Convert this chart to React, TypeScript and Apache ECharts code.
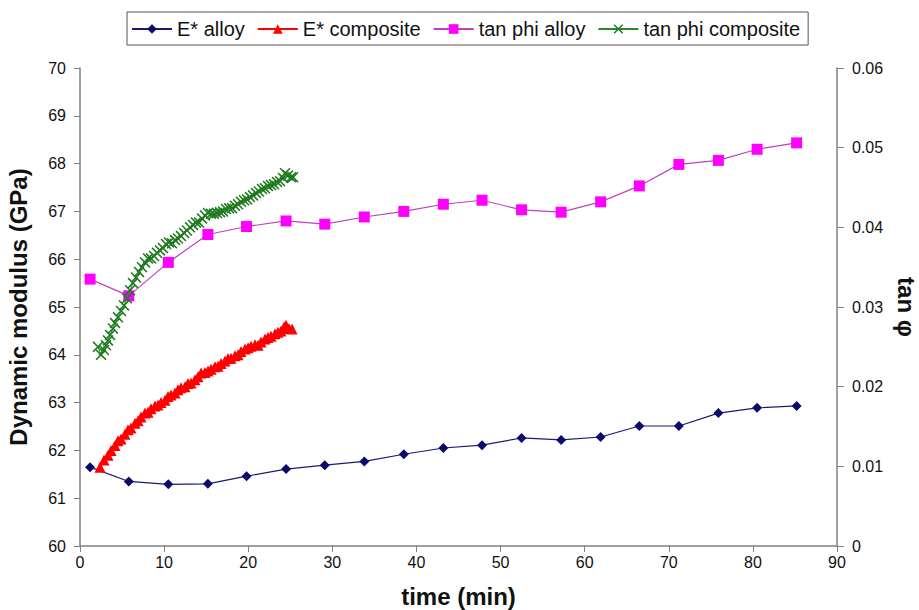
import React, { useEffect, useRef } from "react";
import * as echarts from "echarts";

// ---- data ----
const alloyTime = [1.2, 5.8, 10.5, 15.2, 19.8, 24.5, 29.1, 33.8, 38.5, 43.2, 47.8, 52.5, 57.2, 61.9, 66.5, 71.2, 75.9, 80.5, 85.2];
const eAlloy = [61.65, 61.35, 61.29, 61.3, 61.46, 61.61, 61.69, 61.77, 61.92, 62.05, 62.11, 62.26, 62.22, 62.28, 62.51, 62.51, 62.78, 62.89, 62.93];
const tanAlloy = [0.0335, 0.0314, 0.0356, 0.0391, 0.0401, 0.0408, 0.0404, 0.0413, 0.042, 0.0429, 0.0434, 0.0422, 0.0419, 0.0432, 0.0452, 0.0479, 0.0484, 0.0498, 0.0506];

const eCompTime = [2.38, 2.85, 3.33, 3.69, 4.16, 4.52, 4.88, 5.35, 5.71, 6.06, 6.54, 6.9, 7.25, 7.73, 8.09, 8.44, 8.92, 9.27, 9.63, 10.11, 10.46, 10.82, 11.3, 11.65, 12.01, 12.49, 12.84, 13.2, 13.67, 14.03, 14.39, 14.86, 15.22, 15.58, 16.05, 16.41, 16.77, 17.24, 17.6, 17.95, 18.43, 18.79, 19.14, 19.62, 19.98, 20.33, 20.81, 21.17, 21.52, 22.0, 22.35, 22.71, 23.19, 23.54, 23.9, 24.26, 24.49, 24.85, 25.21];
const eComp = [61.65, 61.8, 61.9, 62.0, 62.1, 62.2, 62.24, 62.34, 62.43, 62.47, 62.57, 62.62, 62.7, 62.78, 62.8, 62.87, 62.93, 62.95, 63.0, 63.05, 63.13, 63.16, 63.2, 63.27, 63.31, 63.33, 63.4, 63.41, 63.48, 63.54, 63.62, 63.63, 63.66, 63.7, 63.75, 63.76, 63.82, 63.87, 63.92, 63.93, 63.98, 64.0, 64.07, 64.12, 64.15, 64.18, 64.21, 64.2, 64.27, 64.33, 64.36, 64.39, 64.44, 64.47, 64.5, 64.58, 64.62, 64.55, 64.54];

const tanCompTime = [2.14, 2.5, 2.85, 3.09, 3.33, 3.57, 3.92, 4.16, 4.52, 4.88, 5.23, 5.59, 5.95, 6.3, 6.66, 7.02, 7.37, 7.73, 8.09, 8.44, 8.8, 9.16, 9.51, 9.87, 10.23, 10.58, 10.94, 11.3, 11.65, 12.01, 12.37, 12.72, 13.08, 13.44, 13.79, 14.15, 14.51, 14.86, 15.22, 15.58, 15.93, 16.29, 16.65, 17.0, 17.36, 17.72, 18.07, 18.43, 18.79, 19.14, 19.5, 19.86, 20.21, 20.57, 20.93, 21.28, 21.64, 22.0, 22.35, 22.71, 23.07, 23.42, 23.78, 24.14, 24.38, 24.73, 25.09, 25.33];
const tanComp = [0.025, 0.024, 0.0246, 0.0252, 0.0258, 0.0265, 0.0273, 0.028, 0.0287, 0.0295, 0.0302, 0.0311, 0.0321, 0.033, 0.0337, 0.0344, 0.035, 0.0356, 0.0361, 0.0361, 0.0364, 0.0368, 0.0371, 0.0374, 0.0379, 0.0381, 0.038, 0.0384, 0.0386, 0.0389, 0.0393, 0.0396, 0.04, 0.0403, 0.0406, 0.0406, 0.0411, 0.0415, 0.0418, 0.0417, 0.0417, 0.0418, 0.0419, 0.042, 0.0423, 0.0424, 0.0424, 0.0427, 0.0429, 0.0432, 0.0434, 0.0435, 0.0438, 0.044, 0.0443, 0.0445, 0.0448, 0.0449, 0.0452, 0.0453, 0.0454, 0.0457, 0.0458, 0.0462, 0.0468, 0.0465, 0.0463, 0.0463];

const xTicks = { min: 0, max: 90, interval: 10 };
const leftTicks = { min: 60, max: 70, interval: 1 };
const rightTicks = { min: 0, max: 0.06, interval: 0.01 };

const seriesNames = ["E* alloy", "E* composite", "tan phi alloy", "tan phi composite"];

const FONT = "'Liberation Sans', Arial, sans-serif";
const CROSS = "path://M0,1L1,0L5,4L9,0L10,1L6,5L10,9L9,10L5,6L1,10L0,9L4,5Z";

function pairs(t: number[], v: number[]) {
  return t.map((x, i) => [x, v[i]]);
}

export default function App() {
  const ref = useRef<HTMLDivElement>(null);
  useEffect(() => {
    if (!ref.current) return;
    document.body.style.margin = "0";
    document.body.style.overflow = "hidden";
    const chart = echarts.init(ref.current, null, { renderer: "svg", width: 919, height: 610 });
    const axisLine = { lineStyle: { color: "#808080", width: 1.5 } };
    const axisLabel = { color: "#111", fontSize: 16, fontFamily: FONT };
    const titleStyle = { fontSize: 24, fontWeight: "bold", color: "#111", fontFamily: FONT };
    chart.setOption({
      animation: false,
      backgroundColor: "#fff",
      textStyle: { fontFamily: FONT },
      legend: {
        data: seriesNames,
        left: 127,
        top: 12,
        itemWidth: 40,
        itemHeight: 12,
        itemGap: 12,
        padding: [7, 8, 6, 4],
        borderColor: "#555",
        borderWidth: 1,
        textStyle: { fontSize: 20, color: "#111", fontFamily: FONT },
      },
      grid: { left: 80, right: 82, top: 68, bottom: 64, outerBoundsMode: "none", containLabel: false },
      xAxis: {
        type: "value",
        ...xTicks,
        name: "time (min)",
        nameLocation: "middle",
        nameGap: 38,
        nameTextStyle: titleStyle,
        axisLine,
        axisTick: { show: true, length: 6, lineStyle: { color: "#808080" } },
        axisLabel: { ...axisLabel, margin: 8 },
        splitLine: { show: false },
      },
      yAxis: [
        {
          type: "value",
          ...leftTicks,
          name: "Dynamic modulus (GPa)",
          nameLocation: "middle",
          nameGap: 50,
          nameTextStyle: titleStyle,
          axisLine: { show: true, ...axisLine },
          axisTick: { show: true, length: 6, lineStyle: { color: "#808080" } },
          axisLabel: { ...axisLabel, margin: 14 },
          splitLine: { show: false },
        },
        {
          type: "value",
          ...rightTicks,
          position: "right",
          name: "tan φ",
          nameLocation: "middle",
          nameGap: 54,
          nameRotate: -90,
          nameTextStyle: titleStyle,
          axisLine: { show: true, ...axisLine },
          axisTick: { show: true, length: 7, lineStyle: { color: "#808080" } },
          axisLabel: {
            ...axisLabel,
            margin: 15,
            formatter: (v: number) => (v === 0 ? "0" : v.toFixed(2)),
          },
          splitLine: { show: false },
        },
      ],
      series: [
        {
          name: seriesNames[0],
          type: "line",
          yAxisIndex: 0,
          data: pairs(alloyTime, eAlloy),
          symbol: "diamond",
          symbolSize: 10,
          lineStyle: { color: "#1a1a70", width: 1.2 },
          itemStyle: { color: "#0a0a6a" },
          z: 3,
        },
        {
          name: seriesNames[1],
          type: "line",
          yAxisIndex: 0,
          data: pairs(eCompTime, eComp),
          symbol: "triangle",
          symbolSize: 11,
          lineStyle: { color: "#ff0000", width: 1 },
          itemStyle: { color: "#ff0000" },
          z: 4,
        },
        {
          name: seriesNames[2],
          type: "line",
          yAxisIndex: 1,
          data: pairs(alloyTime, tanAlloy),
          symbol: "rect",
          symbolSize: 11,
          lineStyle: { color: "#c040c0", width: 1.2 },
          itemStyle: { color: "#ff00ff" },
          z: 3,
        },
        {
          name: seriesNames[3],
          type: "line",
          yAxisIndex: 1,
          data: pairs(tanCompTime, tanComp),
          symbol: CROSS,
          symbolSize: 11,
          lineStyle: { color: "#2a8a2a", width: 1 },
          itemStyle: { color: "#1e7a1e" },
          z: 4,
        },
      ],
    });
    return () => chart.dispose();
  }, []);
  return <div ref={ref} style={{ width: 919, height: 610 }} />;
}
